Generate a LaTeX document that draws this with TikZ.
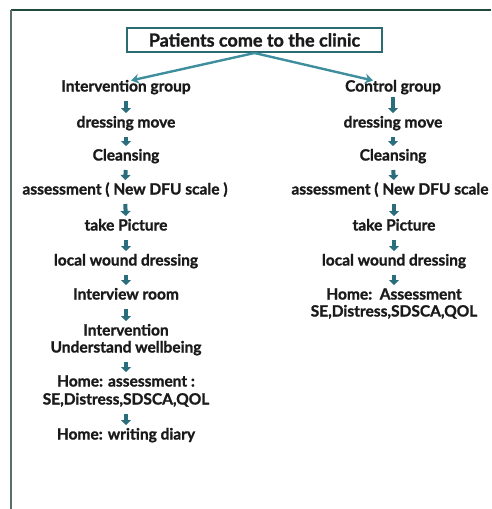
\documentclass[tikz,border=0pt]{standalone}
\usepackage{fontspec}
\setmainfont{Lato}[BoldFeatures={FakeBold=1.3}]
\usetikzlibrary{arrows.meta}
\definecolor{frameg}{HTML}{1F4A3A}
\definecolor{framel}{HTML}{5A6E6A}
\definecolor{boxc}{HTML}{2B6B72}
\definecolor{bigarr}{HTML}{3E8E9E}
\definecolor{smarr}{HTML}{2A6D7D}
\definecolor{txt}{HTML}{1A1A1A}
\begin{document}
\begin{tikzpicture}[x=1pt,y=-1pt,
  lbl/.style={font=\bfseries\fontsize{15.5}{18}\selectfont, text=txt, inner sep=0pt, outer sep=0pt, text height=11pt, text depth=4pt},
  blk/.style={draw=smarr, line width=4pt, -{Triangle[length=5pt,width=10pt]}, shorten <=5.5pt, shorten >=3.5pt},
  big/.style={draw=bigarr, line width=2.4pt, -{Stealth[length=8pt,width=10pt]}}
]
\useasboundingbox (0,0) rectangle (491,509);
\draw[frameg, line width=1.4pt] (11,10) -- (491,10);
\draw[framel, line width=1.8pt] (11,10) -- (11,509);

\node[draw=boxc, line width=2pt, minimum width=255pt, minimum height=24pt, inner sep=0pt,
  font=\bfseries\fontsize{18}{20}\selectfont, text=txt] (top) at (254.5,40) {Patients come to the clinic};

% left column
\node[lbl] (l1) at (126,88) {Intervention group};
\node[lbl] (l2) at (126,124) {dressing move};
\node[lbl] (l3) at (126,157) {Cleansing};
\node[lbl] (l4) at (125,191) {assessment ( New DFU scale )};
\node[lbl] (l5) at (126,227) {take Picture};
\node[lbl] (l6) at (126,262) {local wound dressing};
\node[lbl] (l7) at (126,296) {Interview room};
\node[lbl] (l8a) at (126,332) {Intervention};
\node[lbl] (l8b) at (126,349) {Understand wellbeing};
\node[lbl] (l9a) at (126,383) {Home: assessment :};
\node[lbl] (l9b) at (126,401) {SE,Distress,SDSCA,QOL};
\node[lbl] (l10) at (126,436) {Home: writing diary};

% right column
\node[lbl] (r1) at (393,88) {Control group};
\node[lbl] (r2) at (393,124) {dressing move};
\node[lbl] (r3) at (393,157) {Cleansing};
\node[lbl] (r4) at (394,191) {assessment ( New DFU scale )};
\node[lbl] (r5) at (394,227) {take Picture};
\node[lbl] (r6) at (394,262) {local wound dressing};
\node[lbl] (r7a) at (394,296) {Home:\ \ Assessment};
\node[lbl] (r7b) at (394,313) {SE,Distress,SDSCA,QOL};

\draw[big] (top.south) -- (l1.north -| 131,80);
\draw[big] (top.south) -- (r1.north -| 373,79);

\foreach \a/\b in {l1/l2,l2/l3,l3/l4,l4/l5,l5/l6,l6/l7,l7/l8a,l8b/l9a,l9b/l10}
  \draw[blk] (\a.south) -- (\b.north);
\draw[blk, shorten <=1pt] (r1.south) -- (r2.north);
\foreach \a/\b in {r2/r3,r3/r4,r4/r5,r5/r6,r6/r7a}
  \draw[blk] (\a.south) -- (\b.north);
\end{tikzpicture}
\end{document}
